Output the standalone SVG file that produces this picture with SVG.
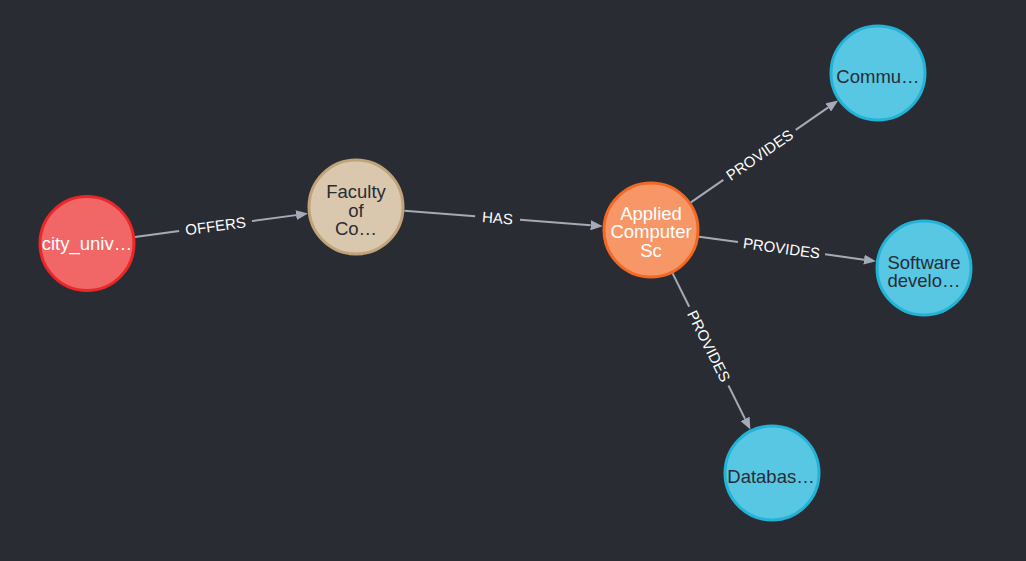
<svg xmlns="http://www.w3.org/2000/svg" width="1026" height="561" viewBox="0 0 1026 561">
<style>
.bg{fill:#292c33}
.edge{stroke:#a5abb6;stroke-width:2;fill:none}
.elabel{font-family:"Liberation Sans",Arial,sans-serif;font-size:15px;fill:#ffffff;text-anchor:middle}
.ntext{font-family:"Liberation Sans",Arial,sans-serif;font-size:18.5px;text-anchor:middle}
.light{fill:#ffffff}
.dark{fill:#2a2c34}
.n{stroke-width:3}
.red{fill:#f16667;stroke:#eb2728}
.tan{fill:#d9c8ae;stroke:#c0a378}
.orange{fill:#f79767;stroke:#f36924}
.blue{fill:#57c7e3;stroke:#23b3d7}
</style>
<defs>
<marker id="arrow" markerUnits="userSpaceOnUse" markerWidth="12" markerHeight="10" refX="0" refY="5" orient="auto">
<path d="M0,0 L12,5 L0,10 Z" fill="#a5abb6"/>
</marker>
</defs>
<rect class="bg" x="0" y="0" width="1026" height="561"/>
<g id="connectors">
<g id="e-offers" transform="translate(87,243.5) rotate(-7.73)">
<line class="edge" x1="48.5" y1="0" x2="93" y2="0"/>
<line class="edge" x1="166.4" y1="0" x2="211" y2="0" marker-end="url(#arrow)"/>
<text class="elabel" x="129.7" y="0" dy="0.35em">OFFERS</text>
</g>
<g id="e-has" transform="translate(356,207) rotate(4.458)">
<line class="edge" x1="48.5" y1="0" x2="119.5" y2="0"/>
<line class="edge" x1="164.5" y1="0" x2="235.4" y2="0" marker-end="url(#arrow)"/>
<text class="elabel" x="141.95" y="0" dy="0.35em">HAS</text>
</g>
<g id="e-provides-commu" transform="translate(651,230) rotate(-34.67)">
<line class="edge" x1="48.5" y1="0" x2="88" y2="0"/>
<line class="edge" x1="176" y1="0" x2="215.5" y2="0" marker-end="url(#arrow)"/>
<text class="elabel" x="132" y="0" dy="0.35em">PROVIDES</text>
</g>
<g id="e-provides-software" transform="translate(651,230) rotate(7.924)">
<line class="edge" x1="48.5" y1="0" x2="87.8" y2="0"/>
<line class="edge" x1="175.8" y1="0" x2="215.1" y2="0" marker-end="url(#arrow)"/>
<text class="elabel" x="131.8" y="0" dy="0.35em">PROVIDES</text>
</g>
<g id="e-provides-database" transform="translate(651,230) rotate(63.53)">
<line class="edge" x1="48.5" y1="0" x2="85.75" y2="0"/>
<line class="edge" x1="173.75" y1="0" x2="211" y2="0" marker-end="url(#arrow)"/>
<text class="elabel" x="129.75" y="0" dy="0.35em">PROVIDES</text>
</g>
</g>
<g id="node-city">
<circle class="n red" cx="87" cy="243.5" r="47"/>
<text class="ntext light" x="87" y="250">city_univ…</text>
</g>
<g id="node-faculty">
<circle class="n tan" cx="356" cy="207" r="47"/>
<text class="ntext dark" x="356" y="198">Faculty</text>
<text class="ntext dark" x="356" y="216.5">of</text>
<text class="ntext dark" x="356" y="235">Co…</text>
</g>
<g id="node-applied">
<circle class="n orange" cx="651" cy="230" r="47"/>
<text class="ntext light" x="651" y="219.5">Applied</text>
<text class="ntext light" x="651" y="238">Computer</text>
<text class="ntext light" x="651" y="256.5">Sc</text>
</g>
<g id="node-commu">
<circle class="n blue" cx="878" cy="73" r="47"/>
<text class="ntext dark" x="878" y="82.5">Commu…</text>
</g>
<g id="node-software">
<circle class="n blue" cx="924" cy="268" r="47"/>
<text class="ntext dark" x="924" y="268.5">Software</text>
<text class="ntext dark" x="924" y="286.5">develo…</text>
</g>
<g id="node-database">
<circle class="n blue" cx="772" cy="473" r="47"/>
<text class="ntext dark" x="771" y="482.5">Databas…</text>
</g>
</svg>
